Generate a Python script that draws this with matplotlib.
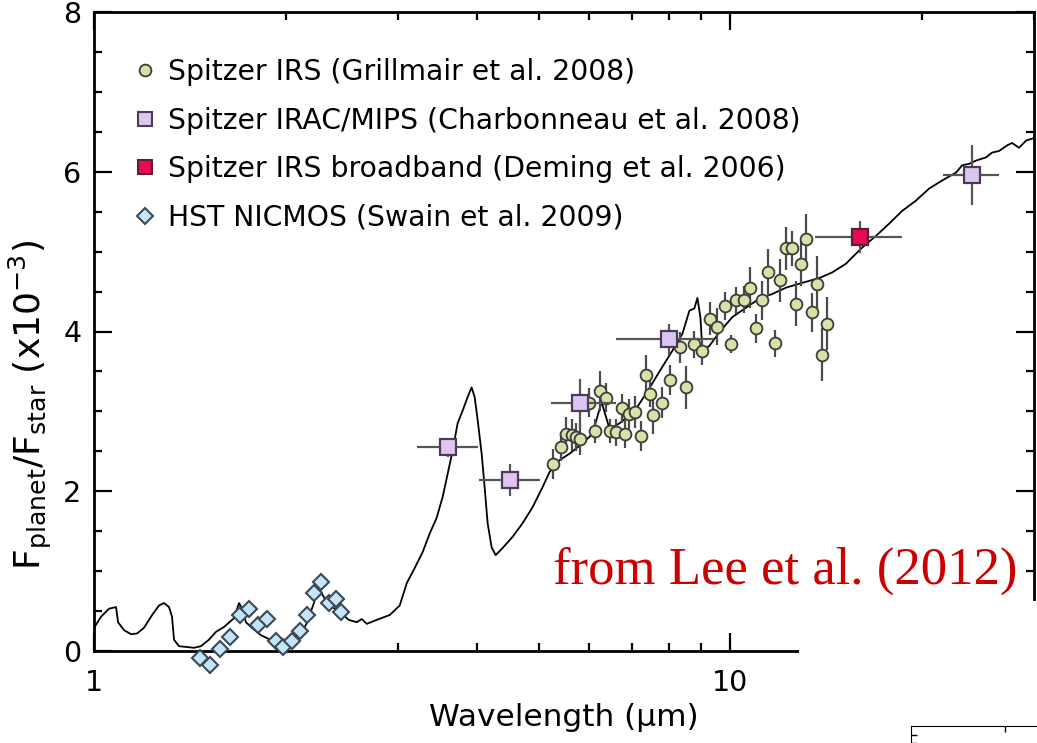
import matplotlib
matplotlib.use("Agg")
import matplotlib.pyplot as plt
from matplotlib.lines import Line2D
from matplotlib.patches import Rectangle
from matplotlib.ticker import LogLocator, MultipleLocator, NullFormatter, FixedLocator

plt.rcParams['font.family'] = ['DejaVu Sans']

# model dayside emission spectrum (wavelength in micron, Fp/Fs in 1e-3)
model_wl = [1.000, 1.026, 1.056, 1.083, 1.091, 1.115, 1.144, 1.169, 1.198, 1.234,
            1.265, 1.288, 1.312, 1.326, 1.336, 1.360, 1.400, 1.436, 1.472, 1.515,
            1.555, 1.600, 1.659, 1.690, 1.707, 1.733, 1.771, 1.828, 1.882, 1.931,
            1.973, 2.009, 2.061, 2.113, 2.159, 2.216, 2.247, 2.280, 2.321, 2.380,
            2.451, 2.513, 2.587, 2.635, 2.683, 2.782, 2.915, 3.023, 3.101, 3.192,
            3.285, 3.369, 3.456, 3.531, 3.596, 3.661, 3.727, 3.796, 3.865, 3.921,
            3.964, 4.008, 4.066, 4.110, 4.155, 4.215, 4.277, 4.387, 4.548, 4.715,
            4.888, 5.068, 5.198, 5.390, 5.588, 5.858, 6.074, 6.274, 6.459, 6.695,
            7.067, 7.408, 7.738, 8.108, 8.406, 8.621, 8.779, 8.876, 8.972, 9.038,
            9.268, 9.609, 10.07, 10.59, 11.10, 11.64, 12.24, 12.98, 13.80, 14.46,
            15.20, 15.55, 16.11, 16.95, 17.76, 18.62, 19.58, 20.53, 21.51, 22.63,
            23.13, 23.73, 24.33, 25.22, 25.78, 26.44, 27.22, 27.71, 28.42, 29.15,
            30.22]
model_flux = [0.29, 0.43, 0.53, 0.55, 0.36, 0.26, 0.21, 0.22, 0.29, 0.45,
              0.57, 0.60, 0.55, 0.43, 0.14, 0.06, 0.05, 0.04, 0.06, 0.14,
              0.24, 0.30, 0.41, 0.60, 0.54, 0.36, 0.29, 0.20, 0.15, 0.11,
              0.075, 0.05, 0.09, 0.20, 0.35, 0.60, 0.79, 0.72, 0.61, 0.54,
              0.47, 0.39, 0.36, 0.40, 0.34, 0.39, 0.45, 0.57, 0.85, 1.04,
              1.24, 1.47, 1.67, 1.93, 2.22, 2.51, 2.85, 3.01, 3.18, 3.30,
              3.18, 2.89, 2.47, 2.05, 1.60, 1.30, 1.20, 1.29, 1.43, 1.60,
              1.80, 2.05, 2.24, 2.39, 2.47, 2.60, 2.72, 3.12, 2.78, 2.85,
              3.00, 3.25, 3.50, 3.76, 3.97, 4.26, 4.29, 4.42, 4.18, 3.76,
              3.82, 3.99, 4.18, 4.30, 4.41, 4.47, 4.55, 4.61, 4.67, 4.74,
              4.85, 4.93, 5.05, 5.20, 5.35, 5.51, 5.64, 5.79, 5.89, 5.99,
              6.08, 6.10, 6.14, 6.18, 6.24, 6.26, 6.33, 6.36, 6.30, 6.39,
              6.43]

# Spitzer IRS spectrum
irs_wl = [5.27, 5.41, 5.51, 5.63, 5.73, 5.80, 6.00, 6.12, 6.23, 6.38,
          6.46, 6.60, 6.75, 6.84, 6.94, 7.09, 7.25, 7.36, 7.49, 7.57,
          7.82, 8.05, 8.32, 8.53, 8.78, 9.04, 9.30, 9.54, 9.82, 10.03,
          10.22, 10.52, 10.75, 10.98, 11.23, 11.47, 11.76, 11.98, 12.24, 12.51,
          12.69, 12.93, 13.16, 13.46, 13.70, 13.95, 14.20]
irs_flux = [2.34, 2.56, 2.72, 2.70, 2.68, 2.65, 3.11, 2.75, 3.26, 3.17,
            2.75, 2.74, 3.04, 2.72, 2.97, 2.99, 2.69, 3.46, 3.22, 2.96,
            3.11, 3.39, 3.80, 3.30, 3.84, 3.75, 4.16, 4.06, 4.32, 3.84,
            4.39, 4.40, 4.55, 4.04, 4.39, 4.74, 3.85, 4.64, 5.04, 5.04,
            4.35, 4.85, 5.16, 4.24, 4.59, 3.71, 4.10]
irs_err = [0.19, 0.18, 0.21, 0.20, 0.18, 0.20, 0.18, 0.15, 0.25, 0.18,
           0.15, 0.17, 0.18, 0.18, 0.19, 0.20, 0.19, 0.25, 0.17, 0.24,
           0.19, 0.19, 0.19, 0.27, 0.17, 0.17, 0.21, 0.23, 0.17, 0.11,
           0.17, 0.17, 0.26, 0.18, 0.24, 0.29, 0.17, 0.27, 0.27, 0.22,
           0.28, 0.28, 0.31, 0.24, 0.35, 0.33, 0.33]

# Spitzer IRAC/MIPS photometry
phot_wl = [3.6, 4.5, 5.8, 8.0, 24.0]
phot_flux = [2.55, 2.14, 3.10, 3.90, 5.96]
phot_err = [0.12, 0.20, 0.30, 0.20, 0.38]
phot_lo = [3.215, 4.021, 5.217, 6.622, 21.60]
phot_hi = [4.006, 5.014, 6.622, 9.44, 26.44]

# IRS broadband point
bb_wl = [16.0]
bb_flux = [5.18]
bb_err = [0.20]
bb_lo = [13.60]
bb_hi = [18.62]

# HST NICMOS spectrum
nic_wl = [1.470, 1.524, 1.580, 1.633, 1.695, 1.751, 1.808, 1.869, 1.931, 1.981,
          2.046, 2.105, 2.159, 2.216, 2.273, 2.338, 2.399, 2.443]
nic_flux = [-0.09, -0.18, 0.02, 0.18, 0.45, 0.53, 0.32, 0.40, 0.12, 0.05,
            0.12, 0.25, 0.45, 0.72, 0.86, 0.60, 0.65, 0.49]

labels = ["Spitzer IRS (Grillmair et al. 2008)",
          "Spitzer IRAC/MIPS (Charbonneau et al. 2008)",
          "Spitzer IRS broadband (Deming et al. 2006)",
          "HST NICMOS (Swain et al. 2009)"]

c_irs = '#d6e2a6'
c_phot = '#dcc6ef'
c_bb = '#ea0a52'
c_nic = '#c4e4f8'
c_edge = '#3c3c3c'
c_bar = '#4a4a4a'

fig = plt.figure(figsize=(10.37, 7.43), dpi=100)
ax = fig.add_axes([94 / 1037, 1 - 651 / 743, 940 / 1037, 639 / 743])

ax.plot(model_wl, model_flux, color='black', lw=1.3, zorder=2)

ax.errorbar(irs_wl, irs_flux, yerr=irs_err, fmt='o', ms=8.5, mfc=c_irs, mec=c_edge,
            mew=1.3, ecolor=c_bar, elinewidth=1.6, capsize=0, zorder=4)

xerr = [[w - lo for w, lo in zip(phot_wl, phot_lo)],
        [hi - w for w, hi in zip(phot_wl, phot_hi)]]
ax.errorbar(phot_wl, phot_flux, xerr=xerr, yerr=phot_err, fmt='s', ms=11,
            mfc=c_phot, mec='#4a3c58', mew=1.6, ecolor='#555555', elinewidth=1.6,
            capsize=0, zorder=5)

xerr_bb = [[bb_wl[0] - bb_lo[0]], [bb_hi[0] - bb_wl[0]]]
ax.errorbar(bb_wl, bb_flux, xerr=xerr_bb, yerr=bb_err, fmt='s', ms=11,
            mfc=c_bb, mec='#5a2030', mew=1.6, ecolor='#555555', elinewidth=1.6,
            capsize=0, zorder=5)

ax.plot(nic_wl, nic_flux, ls='none', marker='D', ms=8.5, mfc=c_nic, mec='#3a4a56',
        mew=1.5, zorder=6, clip_on=False)

ax.set_xscale('log')
ax.set_xlim(1, 30)
ax.set_ylim(0, 8)
ax.xaxis.set_major_locator(FixedLocator([1, 10]))
ax.set_xticklabels(['1', '10'])
ax.xaxis.set_minor_locator(LogLocator(subs=range(2, 10)))
ax.xaxis.set_minor_formatter(NullFormatter())
ax.yaxis.set_major_locator(MultipleLocator(2))
ax.yaxis.set_minor_locator(MultipleLocator(0.5))
ax.tick_params(which='both', direction='in', top=True, right=True, width=1.6,
               labelsize=20.5)
ax.tick_params(which='major', length=13)
ax.tick_params(which='minor', length=6)
ax.tick_params(axis='x', pad=13)
ax.tick_params(axis='y', pad=9)
for s in ax.spines.values():
    s.set_linewidth(2.0)

ax.set_xlabel(u"Wavelength (\u03bcm)", fontsize=22.5, labelpad=4)
ax.set_ylabel(r"F$_\mathregular{planet}$/F$_\mathregular{star}$ (x10$^\mathregular{-3}$)",
              fontsize=26)
ax.yaxis.set_label_coords(-0.043, 0.385)

handles = [
    Line2D([], [], ls='none', marker='o', ms=8.5, mfc=c_irs, mec=c_edge, mew=1.3),
    Line2D([], [], ls='none', marker='s', ms=10.5, mfc=c_phot, mec='#4a3c58', mew=1.5),
    Line2D([], [], ls='none', marker='s', ms=10.5, mfc=c_bb, mec='#5a2030', mew=1.5),
    Line2D([], [], ls='none', marker='D', ms=8.5, mfc=c_nic, mec='#3a4a56', mew=1.5),
]
ax.legend(handles, labels, loc='upper left', bbox_to_anchor=(0.0426, 0.928),
          frameon=False, fontsize=20.3, handlelength=0.8, handletextpad=0.4,
          labelspacing=0.73, borderpad=0, borderaxespad=0)

# blank corner with the edge of the next panel
fig.add_artist(Rectangle((799 / 1037, 0), 238 / 1037, 142 / 743,
                         transform=fig.transFigure, facecolor='white',
                         edgecolor='none', zorder=10))
ax2 = fig.add_axes([911 / 1037, 0, 126 / 1037, 17 / 743], zorder=11)
ax2.patch.set_alpha(0)
ax2.set_xlim(0, 1)
ax2.set_ylim(0, 1)
ax2.spines['right'].set_visible(False)
ax2.spines['bottom'].set_visible(False)
ax2.set_xticks([0.746])
ax2.set_yticks([0.0, 0.45])
ax2.tick_params(direction='in', length=4, width=1, bottom=False, top=True,
                labelbottom=False, labelleft=False)

fig.text(553 / 1037, 1 - 584 / 743, "from Lee et al. (2012)", color='#cc0000',
         fontsize=38, family='Liberation Serif', ha='left', va='baseline',
         zorder=12)

fig.savefig('out.png', dpi=100)
